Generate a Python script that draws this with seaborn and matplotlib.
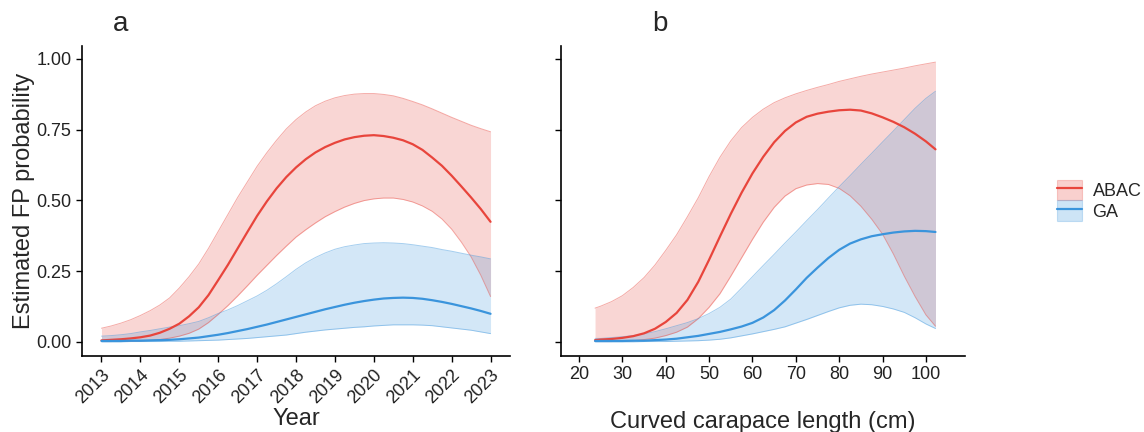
import numpy as np
import pandas as pd
import matplotlib
matplotlib.use("Agg")
import matplotlib.pyplot as plt
import seaborn as sns
from matplotlib.patches import Patch
from matplotlib.lines import Line2D

# panel a: year effect (read every quarter year)
years = [2013.0, 2013.25, 2013.5, 2013.75, 2014.0, 2014.25, 2014.5, 2014.75,
         2015.0, 2015.25, 2015.5, 2015.75, 2016.0, 2016.25, 2016.5, 2016.75,
         2017.0, 2017.25, 2017.5, 2017.75, 2018.0, 2018.25, 2018.5, 2018.75,
         2019.0, 2019.25, 2019.5, 2019.75, 2020.0, 2020.25, 2020.5, 2020.75,
         2021.0, 2021.25, 2021.5, 2021.75, 2022.0, 2022.25, 2022.5, 2022.75, 2023.0]
abac_a_mean = [0.005, 0.007, 0.009, 0.012, 0.016, 0.022, 0.032, 0.046, 0.064, 0.09, 0.122,
               0.165, 0.218, 0.272, 0.33, 0.388, 0.445, 0.496, 0.542, 0.582, 0.616, 0.645,
               0.669, 0.688, 0.703, 0.715, 0.723, 0.728, 0.73, 0.727, 0.721, 0.712, 0.698,
               0.678, 0.651, 0.622, 0.587, 0.549, 0.51, 0.469, 0.424]
abac_a_upper = [0.048, 0.056, 0.066, 0.078, 0.093, 0.11, 0.13, 0.155, 0.19, 0.23, 0.275,
                0.33, 0.39, 0.45, 0.51, 0.565, 0.62, 0.668, 0.712, 0.752, 0.785, 0.812,
                0.834, 0.85, 0.862, 0.87, 0.875, 0.877, 0.877, 0.874, 0.869, 0.86, 0.849,
                0.837, 0.823, 0.808, 0.793, 0.779, 0.765, 0.753, 0.742]
abac_a_lower = [0.001, 0.001, 0.002, 0.002, 0.003, 0.005, 0.008, 0.013, 0.02, 0.03, 0.045,
                0.068, 0.097, 0.128, 0.162, 0.198, 0.235, 0.27, 0.305, 0.338, 0.37, 0.396,
                0.42, 0.442, 0.46, 0.476, 0.489, 0.499, 0.505, 0.508, 0.508, 0.503, 0.494,
                0.48, 0.461, 0.434, 0.398, 0.352, 0.3, 0.235, 0.16]
ga_a_mean = [0.003, 0.003, 0.003, 0.004, 0.004, 0.005, 0.006, 0.007, 0.009, 0.012, 0.015,
             0.02, 0.025, 0.031, 0.038, 0.045, 0.053, 0.061, 0.07, 0.079, 0.088, 0.097,
             0.106, 0.115, 0.123, 0.131, 0.138, 0.144, 0.149, 0.153, 0.155, 0.156, 0.155,
             0.152, 0.147, 0.141, 0.134, 0.126, 0.118, 0.109, 0.099]
ga_a_upper = [0.02, 0.022, 0.025, 0.029, 0.035, 0.04, 0.046, 0.052, 0.057, 0.064, 0.072,
              0.085, 0.1, 0.113, 0.128, 0.145, 0.162, 0.182, 0.205, 0.23, 0.256, 0.279,
              0.298, 0.314, 0.327, 0.336, 0.342, 0.347, 0.349, 0.35, 0.349, 0.347, 0.343,
              0.338, 0.333, 0.326, 0.32, 0.313, 0.306, 0.3, 0.293]
ga_a_lower = [0.0, 0.0, 0.0, 0.001, 0.001, 0.001, 0.001, 0.002, 0.002, 0.003, 0.004,
              0.005, 0.006, 0.008, 0.01, 0.012, 0.015, 0.018, 0.021, 0.024, 0.029, 0.034,
              0.038, 0.042, 0.045, 0.048, 0.051, 0.053, 0.056, 0.058, 0.06, 0.06, 0.06,
              0.059, 0.057, 0.053, 0.049, 0.045, 0.041, 0.035, 0.029]

# panel b: curved carapace length effect
ccl = [23.7, 25, 27.5, 30, 32.5, 35, 37.5, 40, 42.5, 45, 47.5, 50, 52.5, 55, 57.5, 60,
       62.5, 65, 67.5, 70, 72.5, 75, 77.5, 80, 82.5, 85, 87.5, 90, 92.5, 95, 97.5, 100, 102.2]
abac_b_mean = [0.006, 0.008, 0.01, 0.014, 0.02, 0.03, 0.046, 0.07, 0.102, 0.148, 0.212,
               0.29, 0.372, 0.452, 0.527, 0.595, 0.654, 0.705, 0.745, 0.775, 0.795, 0.806,
               0.813, 0.818, 0.82, 0.817, 0.807, 0.793, 0.777, 0.758, 0.735, 0.708, 0.68]
abac_b_upper = [0.119, 0.126, 0.142, 0.163, 0.192, 0.227, 0.271, 0.323, 0.378, 0.442, 0.509,
                0.584, 0.652, 0.71, 0.757, 0.793, 0.822, 0.845, 0.862, 0.876, 0.888, 0.899,
                0.909, 0.92, 0.929, 0.938, 0.946, 0.953, 0.96, 0.967, 0.975, 0.982, 0.988]
abac_b_lower = [0.001, 0.001, 0.001, 0.002, 0.004, 0.008, 0.013, 0.022, 0.034, 0.052, 0.082,
                0.122, 0.17, 0.232, 0.297, 0.362, 0.423, 0.475, 0.515, 0.541, 0.554, 0.559,
                0.556, 0.542, 0.516, 0.479, 0.433, 0.38, 0.31, 0.232, 0.16, 0.095, 0.055]
ga_b_mean = [0.003, 0.003, 0.003, 0.003, 0.004, 0.004, 0.006, 0.008, 0.011, 0.016, 0.021,
             0.028, 0.035, 0.044, 0.054, 0.067, 0.086, 0.112, 0.146, 0.185, 0.226, 0.262,
             0.296, 0.325, 0.347, 0.362, 0.373, 0.38, 0.386, 0.39, 0.392, 0.391, 0.388]
ga_b_upper = [0.012, 0.012, 0.015, 0.018, 0.022, 0.028, 0.036, 0.046, 0.057, 0.068, 0.082,
              0.1, 0.122, 0.151, 0.19, 0.23, 0.27, 0.309, 0.349, 0.388, 0.428, 0.467,
              0.508, 0.548, 0.587, 0.627, 0.666, 0.706, 0.745, 0.785, 0.825, 0.86, 0.885]
ga_b_lower = [0.0, 0.0, 0.0, 0.0, 0.0, 0.001, 0.001, 0.001, 0.002, 0.003, 0.004,
              0.006, 0.009, 0.014, 0.021, 0.028, 0.036, 0.044, 0.053, 0.066, 0.079, 0.093,
              0.107, 0.12, 0.129, 0.133, 0.131, 0.125, 0.116, 0.104, 0.085, 0.063, 0.047]

groups = ["ABAC", "GA"]
colors = {"ABAC": "#E8453C", "GA": "#3A94DC"}

df_a = pd.DataFrame({
    "x": years * 2,
    "mean": abac_a_mean + ga_a_mean,
    "lower": abac_a_lower + ga_a_lower,
    "upper": abac_a_upper + ga_a_upper,
    "group": ["ABAC"] * len(years) + ["GA"] * len(years),
})
df_b = pd.DataFrame({
    "x": ccl * 2,
    "mean": abac_b_mean + ga_b_mean,
    "lower": abac_b_lower + ga_b_lower,
    "upper": abac_b_upper + ga_b_upper,
    "group": ["ABAC"] * len(ccl) + ["GA"] * len(ccl),
})

sns.set_theme(style="ticks")
plt.rcParams["font.family"] = ["Liberation Sans", "DejaVu Sans"]

fig = plt.figure(figsize=(11.44, 4.32), dpi=100)
ax_a = fig.add_axes([0.0717, 0.176, 0.3741, 0.7175])
ax_b = fig.add_axes([0.4904, 0.176, 0.3531, 0.7175])


def draw_panel(ax, df):
    for g in groups:
        sub = df[df["group"] == g]
        ax.fill_between(sub["x"], sub["lower"], sub["upper"], color=colors[g],
                        alpha=0.22, linewidth=0)
        ax.plot(sub["x"], sub["lower"], color=colors[g], alpha=0.45, lw=0.7)
        ax.plot(sub["x"], sub["upper"], color=colors[g], alpha=0.45, lw=0.7)
    sns.lineplot(data=df, x="x", y="mean", hue="group", palette=colors,
                 hue_order=groups, ax=ax, lw=1.6, legend=False, sort=True)
    ax.set_ylim(-0.05, 1.045)
    ax.set_yticks([0, 0.25, 0.5, 0.75, 1.0])
    for side in ["top", "right"]:
        ax.spines[side].set_visible(False)
    for side in ["left", "bottom"]:
        ax.spines[side].set_color("black")
        ax.spines[side].set_linewidth(1.2)
    ax.tick_params(axis="both", colors="black", length=4, width=1.0,
                   labelsize=13, labelcolor="#222222")


draw_panel(ax_a, df_a)
ax_a.set_xlim(2012.5, 2023.5)
ax_a.set_xticks(list(range(2013, 2024)))
ax_a.set_xticklabels([str(y) for y in range(2013, 2024)], rotation=45,
                     ha="right", rotation_mode="anchor")
ax_a.set_yticklabels(["0.00", "0.25", "0.50", "0.75", "1.00"])
ax_a.set_xlabel("Year", fontsize=17, labelpad=1)
ax_a.set_ylabel("Estimated FP probability", fontsize=17, labelpad=1)

draw_panel(ax_b, df_b)
ax_b.set_xlim(15.85, 109)
ax_b.set_xticks(list(range(20, 101, 10)))
ax_b.set_yticklabels([])
ax_b.set_xlabel("Curved carapace length (cm)", fontsize=17, labelpad=20)
ax_b.set_ylabel("")

fig.text(0.105, 0.945, "a", fontsize=20, ha="center", va="center")
fig.text(0.577, 0.945, "b", fontsize=20, ha="center", va="center")

handles = [(Patch(facecolor=colors[g], alpha=0.25, edgecolor=colors[g], linewidth=0.8),
            Line2D([], [], color=colors[g], lw=1.6)) for g in groups]
fig.legend(handles, groups, loc="center left", bbox_to_anchor=(0.918, 0.536),
           frameon=False, fontsize=13, handlelength=1.35, handleheight=1.35,
           labelspacing=0.0, handletextpad=0.6, borderaxespad=0)

fig.savefig("out.png", dpi=100)
